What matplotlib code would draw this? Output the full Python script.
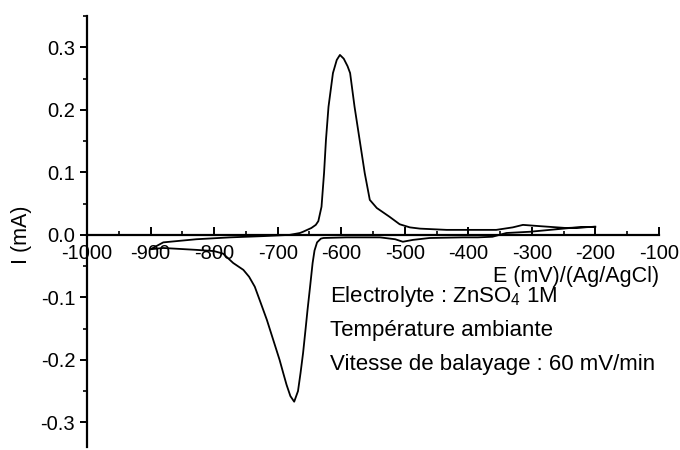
import matplotlib

matplotlib.use("Agg")

import matplotlib.pyplot as plt
from matplotlib.ticker import MultipleLocator

# cathodic sweep, -200 mV -> -900 mV
e_down = [-200, -240, -303, -340, -351, -362, -385, -409, -461, -487, -503, -515, -539,
          -592, -628, -632, -638, -642, -645, -649, -653, -656, -660, -664, -668, -674,
          -680, -686, -691, -697, -707, -717, -727, -736, -745, -754, -770, -786, -800,
          -828, -880, -900]
i_down = [0.013, 0.011, 0.005, 0.003, 0.0, -0.003, -0.004, -0.004, -0.005, -0.008, -0.011,
          -0.007, -0.004, -0.004, -0.005, -0.006, -0.012, -0.025, -0.045, -0.083, -0.120,
          -0.150, -0.189, -0.221, -0.250, -0.267, -0.258, -0.240, -0.222, -0.200, -0.168,
          -0.136, -0.108, -0.083, -0.067, -0.056, -0.045, -0.030, -0.026, -0.024, -0.021,
          -0.023]

# anodic sweep, -900 mV -> -200 mV
e_up = [-900, -880, -828, -775, -723, -681, -665, -660, -647, -640, -636, -631, -627, -624,
        -620, -613, -607, -602, -596, -590, -586, -579, -571, -563, -555, -544, -524, -508,
        -492, -476, -434, -356, -330, -314, -288, -246, -201]
i_up = [-0.023, -0.012, -0.007, -0.004, -0.002, 0.0, 0.003, 0.005, 0.011, 0.016, 0.022,
        0.045, 0.099, 0.152, 0.205, 0.259, 0.280, 0.288, 0.282, 0.270, 0.259, 0.205, 0.152,
        0.099, 0.056, 0.043, 0.029, 0.017, 0.012, 0.010, 0.008, 0.008, 0.012, 0.016, 0.014,
        0.011, 0.013]

notes = ["Electrolyte : ZnSO$_4$ 1M", "Température ambiante", "Vitesse de balayage : 60 mV/min"]

plt.rcParams["font.family"] = ["Liberation Sans", "DejaVu Sans"]
plt.rcParams["mathtext.fontset"] = "custom"
plt.rcParams["mathtext.rm"] = "Liberation Sans"
plt.rcParams["mathtext.it"] = "Liberation Sans"
plt.rcParams["axes.unicode_minus"] = False

fig = plt.figure(figsize=(6.8, 4.5), dpi=100)
ax = fig.add_axes([0.128, 0.006, 0.841, 0.958])

ax.plot(e_down + e_up, i_down + i_up, color="black", lw=1.3)

ax.set_xlim(-1000, -100)
ax.set_ylim(-0.34, 0.35)

ax.spines["top"].set_visible(False)
ax.spines["right"].set_visible(False)
ax.spines["bottom"].set_position(("data", 0))
ax.spines["bottom"].set_linewidth(1.6)
ax.spines["left"].set_linewidth(1.6)

ax.xaxis.set_major_locator(MultipleLocator(100))
ax.xaxis.set_minor_locator(MultipleLocator(50))
ax.yaxis.set_major_locator(MultipleLocator(0.1))
ax.yaxis.set_minor_locator(MultipleLocator(0.05))
ax.yaxis.set_major_formatter(lambda v, p: f"{v:.1f}")

ax.tick_params(axis="x", which="major", direction="in", length=6, width=1.4, labelsize=14.5, pad=6.5)
ax.tick_params(axis="x", which="minor", direction="in", length=3, width=1.2)
ax.tick_params(axis="y", which="major", direction="out", length=5, width=1.4, labelsize=14.5)
ax.tick_params(axis="y", which="minor", direction="out", length=3, width=1.2)

ax.text(-100, -0.067, "E (mV)/(Ag/AgCl)", ha="right", va="center", fontsize=15.5)
fig.text(0.032, 0.478, "I (mA)", rotation=90, ha="center", va="center", fontsize=15.5)

for k, line in enumerate(notes):
    ax.text(-618, -0.099 - k * 0.054, line, ha="left", va="center", fontsize=16)

fig.savefig("out.png", dpi=100)
